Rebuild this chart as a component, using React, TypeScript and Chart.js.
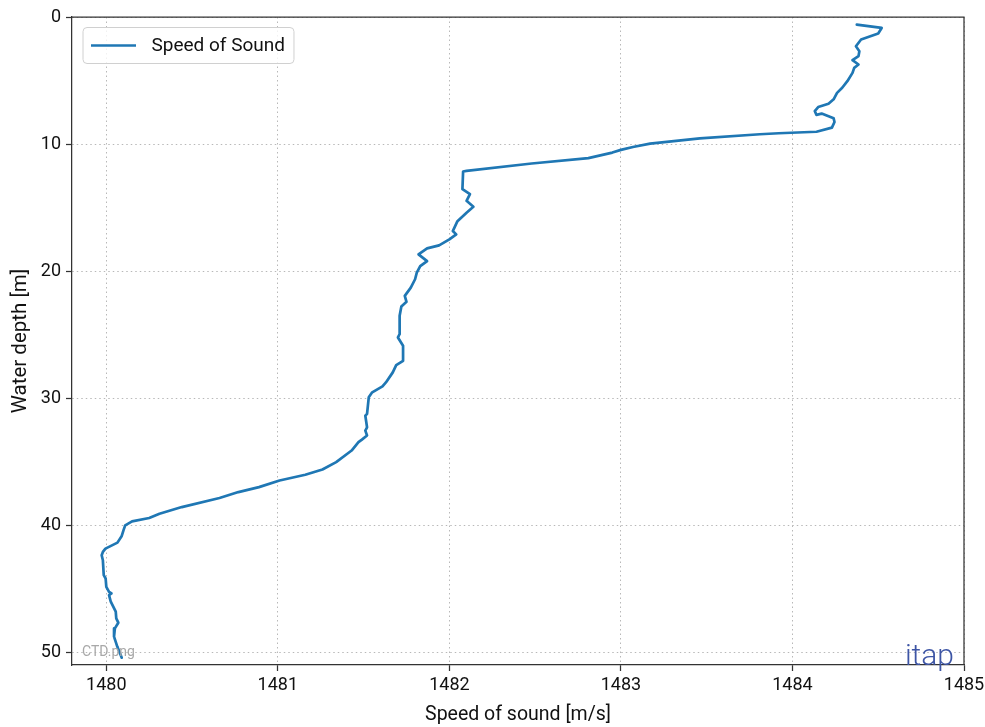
import { useEffect, useRef } from "react";
import { Chart, registerables } from "chart.js";

Chart.register(...registerables);

// CTD cast: water depth [m] and speed of sound [m/s]
const depthM = [
  0.6, 0.86, 1.3, 1.77, 2.3, 2.69, 3.08, 3.4, 3.74, 4.0, 4.4, 5.05, 5.57, 5.97,
  6.48, 6.83, 7.09, 7.4, 7.7, 7.6, 7.97, 8.26, 8.71, 9.03, 9.15, 9.23, 9.55,
  9.97, 10.23, 10.46, 10.67, 11.11, 11.53, 12.11, 12.16, 13.55, 13.94, 14.47,
  14.94, 15.4, 16.07, 16.85, 17.11, 17.5, 17.97, 18.21, 18.68, 19.21, 19.6,
  20.12, 20.64, 21.3, 21.95, 22.42, 22.79, 23.52, 24.96, 25.22, 25.88, 27.06,
  27.4, 27.97, 28.76, 29.07, 29.54, 29.93, 31.24, 31.38, 32.29, 32.55, 32.94,
  33.26, 33.46, 34.12, 35.03, 35.61, 36.03, 36.48, 37.0, 37.39, 37.86, 38.57,
  39.1, 39.43, 39.7, 40.01, 40.4, 40.84, 41.37, 41.84, 42.1, 42.36, 42.76,
  43.93, 44.19, 44.85, 45.24, 45.37, 45.5, 46.02, 46.8, 47.33, 47.67, 48.12,
  48.77, 49.55, 50.42,
];

const soundSpeed = [
  1484.375, 1484.52, 1484.5, 1484.4, 1484.37, 1484.39, 1484.385, 1484.35,
  1484.385, 1484.36, 1484.35, 1484.32, 1484.29, 1484.26, 1484.24, 1484.21,
  1484.15, 1484.13, 1484.14, 1484.17, 1484.24, 1484.245, 1484.23, 1484.14,
  1483.92, 1483.81, 1483.46, 1483.17, 1483.07, 1483.0, 1482.95, 1482.81,
  1482.48, 1482.1, 1482.08, 1482.076, 1482.12, 1482.1, 1482.14, 1482.1,
  1482.047, 1482.02, 1482.04, 1482.0, 1481.94, 1481.87, 1481.82, 1481.87,
  1481.83, 1481.81, 1481.8, 1481.775, 1481.74, 1481.75, 1481.72, 1481.71,
  1481.71, 1481.7, 1481.73, 1481.73, 1481.69, 1481.67, 1481.63, 1481.61,
  1481.55, 1481.53, 1481.52, 1481.51, 1481.52, 1481.51, 1481.52, 1481.49,
  1481.47, 1481.43, 1481.34, 1481.26, 1481.16, 1481.01, 1480.89, 1480.77,
  1480.66, 1480.44, 1480.31, 1480.25, 1480.15, 1480.11, 1480.1, 1480.09,
  1480.065, 1479.995, 1479.98, 1479.973, 1479.98, 1479.985, 1479.996, 1480.0,
  1480.016, 1480.03, 1480.016, 1480.026, 1480.055, 1480.058, 1480.07, 1480.05,
  1480.045, 1480.064, 1480.09,
];

const speedTicks = [1480, 1481, 1482, 1483, 1484, 1485];
const depthTicks = [0, 10, 20, 30, 40, 50];

const SERIES_LABEL = "Speed of Sound";
const X_TITLE = "Speed of sound [m/s]";
const Y_TITLE = "Water depth [m]";
const FILE_TAG = "CTD.png";
const LOGO = "itap";

const FONT = 'Roboto, "Noto Sans", sans-serif';
const LINE_COLOR = "#1f77b4";
const SPINE_COLOR = "#333333";

const decor = {
  id: "decor",
  afterDatasetsDraw(chart: any) {
    const { ctx, chartArea: a } = chart;
    ctx.save();

    // top and right frame lines
    ctx.strokeStyle = SPINE_COLOR;
    ctx.lineWidth = 1.25;
    ctx.beginPath();
    ctx.moveTo(a.left, a.top);
    ctx.lineTo(a.right, a.top);
    ctx.lineTo(a.right, a.bottom);
    ctx.stroke();

    // legend box
    ctx.font = `19px ${FONT}`;
    const tw = ctx.measureText(SERIES_LABEL).width;
    const lx = a.left + 11;
    const ly = a.top + 10.5;
    const textX = lx + 68.5;
    const lw = textX - lx + tw + 9;
    const lh = 36;
    ctx.beginPath();
    ctx.roundRect(lx, ly, lw, lh, 4);
    ctx.fillStyle = "rgba(255,255,255,0.8)";
    ctx.fill();
    ctx.strokeStyle = "#d0d0d0";
    ctx.lineWidth = 1;
    ctx.stroke();

    ctx.strokeStyle = LINE_COLOR;
    ctx.lineWidth = 2.7;
    ctx.beginPath();
    ctx.moveTo(lx + 8, ly + lh / 2);
    ctx.lineTo(lx + 53, ly + lh / 2);
    ctx.stroke();

    ctx.fillStyle = "#111111";
    ctx.textBaseline = "middle";
    ctx.textAlign = "left";
    ctx.fillText(SERIES_LABEL, textX, ly + lh / 2 + 1);

    // file tag, bottom left inside the axes
    ctx.font = `14px ${FONT}`;
    ctx.fillStyle = "#a8a8a8";
    ctx.fillText(FILE_TAG, a.left + 10, a.bottom - 13);

    // logo, bottom right
    ctx.font = `300 30px Roboto, sans-serif`;
    ctx.fillStyle = "#3d55a5";
    ctx.textAlign = "right";
    ctx.textBaseline = "alphabetic";
    ctx.fillText(LOGO, a.right - 10, a.bottom);

    ctx.restore();
  },
};

export default function App() {
  const canvasRef = useRef<HTMLCanvasElement | null>(null);

  useEffect(() => {
    document.body.style.margin = "0";
    const canvas = canvasRef.current;
    if (!canvas) return;

    const points = depthM.map((d, i) => ({ x: soundSpeed[i], y: d }));

    const chart = new Chart(canvas, {
      type: "scatter",
      data: {
        datasets: [
          {
            label: SERIES_LABEL,
            data: points,
            showLine: true,
            borderColor: LINE_COLOR,
            backgroundColor: LINE_COLOR,
            borderWidth: 2.7,
            pointRadius: 0,
            pointHoverRadius: 0,
            tension: 0,
            borderJoinStyle: "round",
            borderCapStyle: "round",
          },
        ],
      },
      options: {
        animation: false,
        responsive: false,
        devicePixelRatio: 1,
        layout: { padding: { left: 0, top: 17, right: 21, bottom: 0 } },
        plugins: {
          legend: { display: false },
          tooltip: { enabled: false },
        },
        scales: {
          x: {
            type: "linear",
            position: "bottom",
            min: 1479.8,
            max: 1485,
            afterBuildTicks: (scale: any) => {
              scale.ticks = speedTicks.map((v) => ({ value: v }));
            },
            afterFit: (scale: any) => {
              scale.height = 62;
              scale.paddingLeft = 0;
              scale.paddingRight = 0;
            },
            ticks: {
              color: "#111111",
              font: { family: FONT, size: 18 },
              padding: 4,
              maxRotation: 0,
              autoSkip: false,
              callback: (v: any) => String(v),
            },
            grid: {
              color: "#b8b8b8",
              lineWidth: 1,
              drawTicks: true,
              tickLength: 6,
              tickColor: SPINE_COLOR,
              tickWidth: 1.25,
            },
            border: { display: true, color: SPINE_COLOR, width: 1.25, dash: [1.5, 3] },
            title: {
              display: true,
              text: X_TITLE,
              color: "#111111",
              font: { family: FONT, size: 19.5 },
              padding: { top: 0, bottom: 0.5 },
            },
          },
          y: {
            type: "linear",
            reverse: true,
            min: 0,
            max: 51,
            afterBuildTicks: (scale: any) => {
              scale.ticks = depthTicks.map((v) => ({ value: v }));
            },
            afterFit: (scale: any) => {
              scale.width = 72;
              scale.paddingTop = 0;
              scale.paddingBottom = 0;
            },
            ticks: {
              color: "#111111",
              font: { family: FONT, size: 18 },
              padding: 5,
              autoSkip: false,
              callback: (v: any) => String(v),
            },
            grid: {
              color: "#b8b8b8",
              lineWidth: 1,
              drawTicks: true,
              tickLength: 6,
              tickColor: SPINE_COLOR,
              tickWidth: 1.25,
            },
            border: { display: true, color: SPINE_COLOR, width: 1.25, dash: [1.5, 3] },
            title: {
              display: true,
              text: Y_TITLE,
              color: "#111111",
              font: { family: FONT, size: 20.5 },
              padding: { top: 9, bottom: 0 },
            },
          },
        },
      },
      plugins: [decor],
    });

    return () => chart.destroy();
  }, []);

  return (
    <div style={{ width: 985, height: 727, background: "#ffffff" }}>
      <canvas ref={canvasRef} width={985} height={727} style={{ display: "block" }} />
    </div>
  );
}
